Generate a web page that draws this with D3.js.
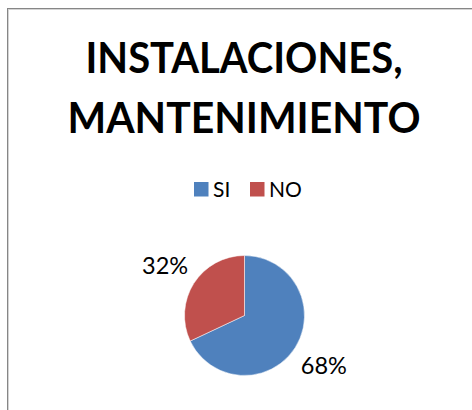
<!DOCTYPE html>
<html>
<head>
<meta charset="utf-8">
<script src="https://cdn.jsdelivr.net/npm/d3@7"></script>
<style>
  body { margin: 0; background: #fff; }
  text { font-family: Lato, "Open Sans", sans-serif; fill: #000; }
</style>
</head>
<body>
<div id="chart"></div>
<script>
// chart data
var titleLines = ["INSTALACIONES,", "MANTENIMIENTO"];
var categories = ["SI", "NO"];
var values = [68, 32];
var colors = ["#4f81bd", "#c0504d"];

var width = 472, height = 410;

var svg = d3.select("#chart")
  .append("svg")
  .attr("width", width)
  .attr("height", height);

// chart area frame (only left and top edges are visible)
svg.append("rect")
  .attr("x", 7.5).attr("y", 8.5)
  .attr("width", 600).attr("height", 600)
  .attr("fill", "none")
  .attr("stroke", "#868686");
svg.append("rect")
  .attr("x", 8.5).attr("y", 9.5)
  .attr("width", 600).attr("height", 600)
  .attr("fill", "none")
  .attr("stroke", "#d4d4d4");

// title
var titleY = [73.3, 133.3];
var titleW = [317, 353];
svg.selectAll(".title")
  .data(titleLines)
  .enter().append("text")
  .attr("class", "title")
  .attr("x", 244)
  .attr("y", function(d, i) { return titleY[i]; })
  .attr("text-anchor", "middle")
  .attr("font-size", 42)
  .attr("font-weight", "bold")
  .attr("textLength", function(d, i) { return titleW[i]; })
  .attr("lengthAdjust", "spacingAndGlyphs")
  .text(function(d) { return d; });

// legend
var legendX = d3.scaleOrdinal().domain(categories).range([194, 250]);
var legend = svg.selectAll(".legend")
  .data(categories)
  .enter().append("g")
  .attr("class", "legend")
  .attr("transform", function(d) { return "translate(" + legendX(d) + ",182)"; });
legend.append("rect")
  .attr("width", 14.5).attr("height", 14.5)
  .attr("fill", function(d, i) { return colors[i]; });
legend.append("text")
  .attr("x", 19)
  .attr("y", 15.2)
  .attr("font-size", 21)
  .text(function(d) { return d; });

// pie
var cx = 244.5, cy = 315.5, r = 60;
var pie = d3.pie().sort(null).value(function(d) { return d; });
var arc = d3.arc().innerRadius(0).outerRadius(r);
var labelArc = d3.arc().innerRadius(94).outerRadius(94);
var total = d3.sum(values);

var g = svg.append("g").attr("transform", "translate(" + cx + "," + cy + ")");
var slices = pie(values);

g.selectAll("path")
  .data(slices)
  .enter().append("path")
  .attr("d", arc)
  .attr("fill", function(d, i) { return colors[i]; })
  .attr("stroke", "#fff")
  .attr("stroke-width", 0.5);

g.selectAll(".label")
  .data(slices)
  .enter().append("text")
  .attr("class", "label")
  .attr("transform", function(d) { return "translate(" + labelArc.centroid(d) + ")"; })
  .attr("text-anchor", "middle")
  .attr("dy", "0.36em")
  .attr("font-size", 23.5)
  .text(function(d) { return Math.round(d.value / total * 100) + "%"; });
</script>
</body>
</html>
